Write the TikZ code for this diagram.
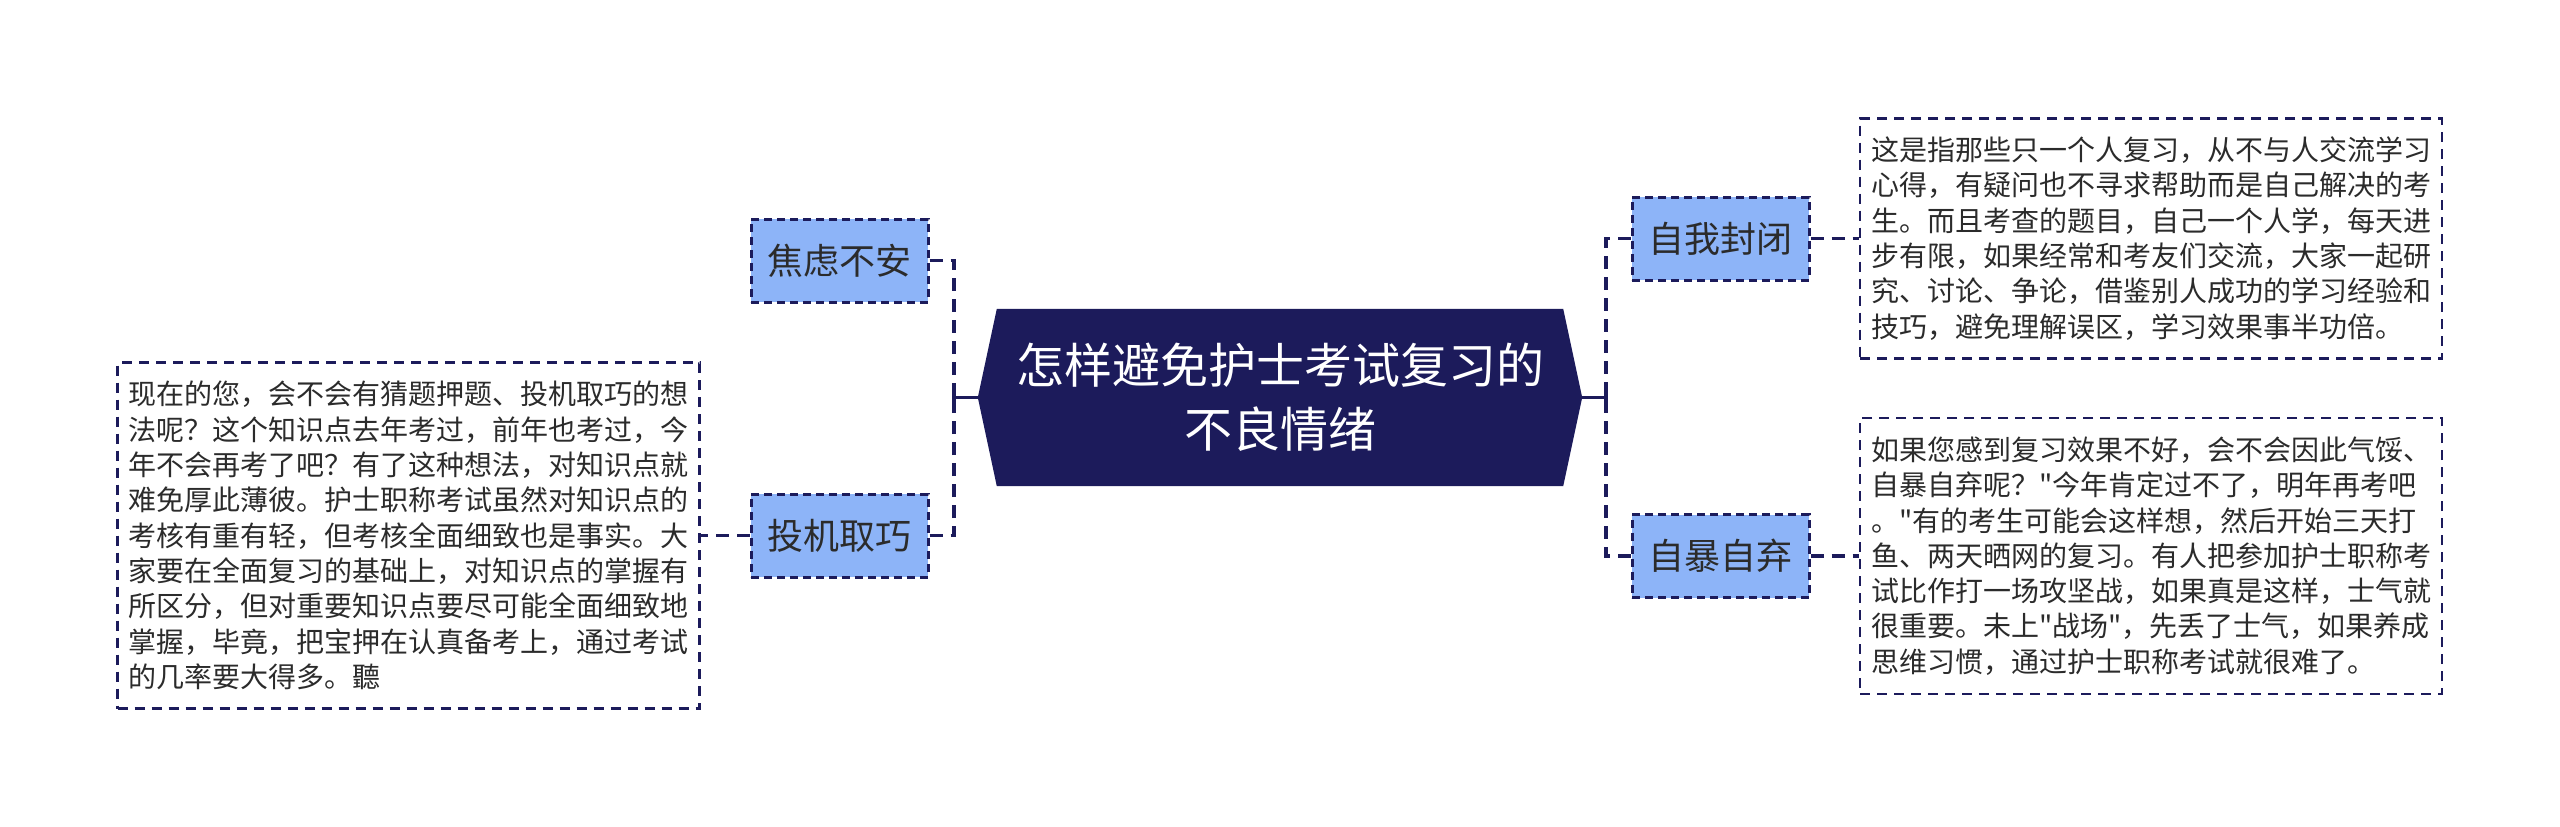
\documentclass[tikz,border=0pt]{standalone}
\usepackage{fontspec}
\newfontfamily\cjk{Noto Sans CJK SC}
\usetikzlibrary{backgrounds}
\definecolor{navy}{HTML}{1C1B5B}
\definecolor{boxblue}{HTML}{8DB4F8}
\definecolor{txt}{HTML}{2B2B2B}
\tikzset{
  topicbox/.style={draw=navy, line width=3pt, dash pattern=on 8pt off 5pt, fill=boxblue,
    minimum width=177pt, minimum height=83pt, inner sep=0pt, text=txt,
    font=\cjk\fontsize{36}{40}\selectfont},
  notebox/.style={draw=navy, line width=2.5pt, dash pattern=on 10pt off 7pt, fill=white,
    align=left, text=txt, inner xsep=11pt, minimum width=582pt,
    font=\cjk\fontsize{28}{35.3}\selectfont},
  link/.style={draw=navy, line width=3.5pt, dash pattern=on 13pt off 8pt},
  trunk/.style={draw=navy, line width=3.5pt}
}
\begin{document}
\begin{tikzpicture}[x=1pt,y=1pt]
\useasboundingbox (0,0) rectangle (2560,-827);
% central node
\node[minimum width=566pt, minimum height=177pt, inner sep=0pt, align=center, text=white,
  font=\cjk\fontsize{48}{64}\selectfont] (c) at (1280,-397.5) {怎样避免护士考试复习的\\不良情绪};
\begin{pgfonlayer}{background}
\fill[navy] (c.north west) -- (c.north east) -- ([xshift=19pt]c.east) -- (c.south east)
  -- (c.south west) -- ([xshift=-19pt]c.west) -- cycle;
\end{pgfonlayer}
\coordinate (cl) at ([xshift=-19pt]c.west);
\coordinate (cr) at ([xshift=19pt]c.east);
% topic boxes
\node[topicbox] (b1) at (839.5,-260.5) {焦虑不安};
\node[topicbox] (b2) at (839.5,-535.5) {投机取巧};
\node[topicbox] (r1) at (1720.5,-238.5) {自我封闭};
\node[topicbox] (r2) at (1720.5,-556) {自暴自弃};
% note boxes
\node[notebox, minimum height=346pt] (t1) at (408.5,-535.5) {现在的您，会不会有猜题押题、投机取巧的想\\法呢？这个知识点去年考过，前年也考过，今\\年不会再考了吧？有了这种想法，对知识点就\\难免厚此薄彼。护士职称考试虽然对知识点的\\考核有重有轻，但考核全面细致也是事实。大\\家要在全面复习的基础上，对知识点的掌握有\\所区分，但对重要知识点要尽可能全面细致地\\掌握，毕竟，把宝押在认真备考上，通过考试\\的几率要大得多。聽};
\node[notebox, minimum height=240pt] (t2) at (2151,-238.5) {这是指那些只一个人复习，从不与人交流学习\\心得，有疑问也不寻求帮助而是自己解决的考\\生。而且考查的题目，自己一个人学，每天进\\步有限，如果经常和考友们交流，大家一起研\\究、讨论、争论，借鉴别人成功的学习经验和\\技巧，避免理解误区，学习效果事半功倍。};
\node[notebox, minimum height=276pt] (t3) at (2151,-556) {如果您感到复习效果不好，会不会因此气馁、\\自暴自弃呢？"今年肯定过不了，明年再考吧\\。"有的考生可能会这样想，然后开始三天打\\鱼、两天晒网的复习。有人把参加护士职称考\\试比作打一场攻坚战，如果真是这样，士气就\\很重要。未上"战场"，先丢了士气，如果养成\\思维习惯，通过护士职称考试就很难了。};
% junctions
\coordinate (jl) at (954,-397.5);
\coordinate (jr) at (1606,-397.5);
\draw[trunk] (cl) -- (jl);
\draw[trunk] ([yshift=10pt]jl) -- ([yshift=-10pt]jl);
\draw[trunk] (cr) -- (jr);
\draw[trunk] ([yshift=10pt]jr) -- ([yshift=-10pt]jr);
\draw[link] (b1.east) -| (jl);
\draw[link] (b2.east) -| (jl);
\draw[link] (r1.west) -| (jr);
\draw[link] (r2.west) -| (jr);
\draw[link] (b2.west) -- (b2.west -| t1.east);
\draw[link] (r1.east) -- (r1.east -| t2.west);
\draw[link] (r2.east) -- (r2.east -| t3.west);
\end{tikzpicture}
\end{document}
